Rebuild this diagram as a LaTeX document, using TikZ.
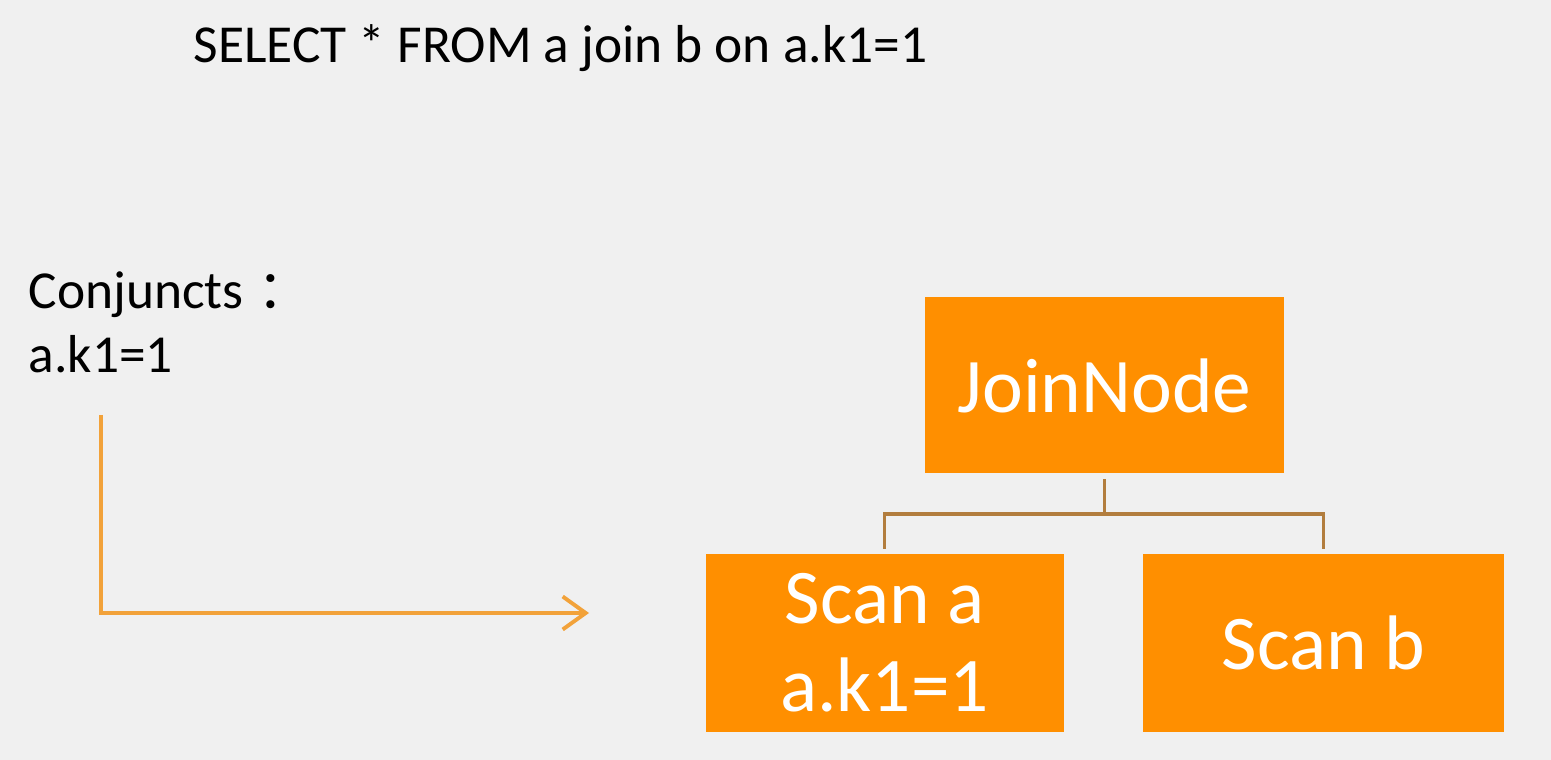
\documentclass[tikz,border=0pt]{standalone}
\usepackage{fontspec}
\setmainfont{Carlito}
\newfontfamily\cjk{Noto Sans CJK SC}
\usepackage{xcolor}
\usetikzlibrary{arrows.meta}
\definecolor{cBack}{HTML}{F0F0F0}
\definecolor{cBox}{HTML}{FF8F00}
\definecolor{cTree}{HTML}{B27D3E}
\definecolor{cFlow}{HTML}{F2A23A}
\tikzset{
  txt/.style  = {anchor=base west, inner sep=0pt, font=\fontsize{15.2pt}{18pt}\selectfont},
  opbox/.style = {rectangle, fill=cBox, draw=none, text=white, align=center,
                  inner sep=0pt, font=\fontsize{22pt}{25pt}\selectfont},
  tree/.style = {draw=cTree, line width=1.1pt, shorten <=0.05cm, shorten >=0.04cm},
  flow/.style = {-{Straight Barb[length=2.3mm,width=3.3mm]}, draw=cFlow, line width=1.1pt},
}

\begin{document}
\begin{tikzpicture}
  \fill[cBack] (0,0) rectangle (15.51,-7.60);
  \useasboundingbox (0,0) rectangle (15.51,-7.60);

  \node[txt] (query) at (1.93,-0.63) {SELECT * FROM a join b on a.k1=1};
  \node[txt] (conj) at (0.28,-3.09) {Conjuncts\hspace{0.14cm}{\cjk ：}};
  \node[txt] (cond) at (0.28,-3.73) {a.k1=1};

  \node[opbox, minimum width=3.59cm, minimum height=1.76cm] (join) at (11.045,-3.855) {JoinNode};
  \node[opbox, minimum width=3.58cm, minimum height=1.78cm] (scana) at (8.845,-6.43) {Scan a\\a.k1=1};
  \node[opbox, minimum width=3.61cm, minimum height=1.78cm] (scanb) at (13.235,-6.43) {Scan b};

  \draw[tree] (join.south) -- ++(0,-0.40) -| (scana.north);
  \draw[tree] (join.south) -- ++(0,-0.40) -| (scanb.north);

  \coordinate (push) at (1.01,-4.15);
  \coordinate (pushend) at (5.89,-6.13);
  \draw[flow] (push) |- (pushend);
\end{tikzpicture}
\end{document}
